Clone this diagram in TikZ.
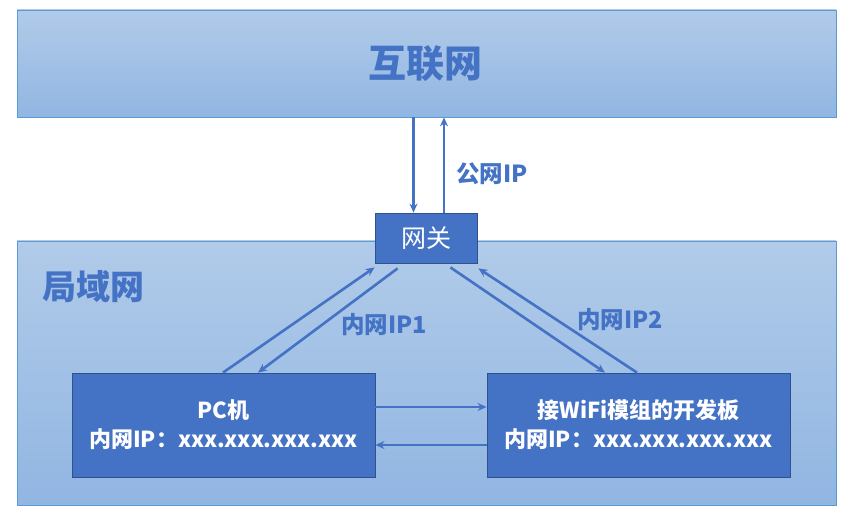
\documentclass[tikz,border=0pt]{standalone}
\usepackage{fontspec}
\setmainfont{Noto Sans CJK SC}
\usetikzlibrary{arrows.meta}
\definecolor{accent}{HTML}{4472C4}
\definecolor{accentdark}{HTML}{2F528F}
\definecolor{edgeblue}{HTML}{5B9BD5}
\definecolor{bgtop}{HTML}{B1CBE9}
\definecolor{bgbot}{HTML}{91B6E2}
\tikzset{
  region/.style={draw=edgeblue, line width=0.8pt, top color=bgtop, bottom color=bgbot, inner sep=0pt},
  devbox/.style={draw=accentdark, line width=0.8pt, fill=accent, text=white, inner sep=0pt, align=center,
    font=\fontsize{22}{29}\selectfont\bfseries},
  arr/.style={draw=accent, line width=2.6pt, -{Stealth[length=9pt,width=8pt]}},
  lbl/.style={text=accent, font=\fontsize{23.5}{26}\selectfont\bfseries, inner sep=0pt}
}
\begin{document}
\begin{tikzpicture}[x=1pt,y=-1pt]
\useasboundingbox (0,0) rectangle (855,518);
\node[region, minimum width=819pt, minimum height=107pt] (internet) at (426.5,63.5) {};
\node[text=accent, font=\fontsize{38}{42}\selectfont\bfseries] (internettext) at (425,64) {互联网};
\node[region, minimum width=819pt, minimum height=264pt] (lan) at (426.5,373) {};
\node[text=accent, font=\fontsize{34}{38}\selectfont\bfseries, anchor=west, inner sep=0pt] (lantext) at (42,287) {局域网};
\node[draw=accentdark, line width=0.8pt, fill=accent, text=white, inner sep=0pt,
  minimum width=102pt, minimum height=50pt, font=\fontsize{25}{28}\selectfont] (gw) at (426,238) {网关};
\node[devbox, minimum width=303pt, minimum height=104pt] (pc) at (223.5,425) {PC机\\内网IP：xxx.xxx.xxx.xxx};
\node[devbox, minimum width=303pt, minimum height=104pt] (board) at (638.5,425) {接WiFi模组的开发板\\内网IP：xxx.xxx.xxx.xxx};
% internet <-> gateway
\draw[arr] ([xshift=-13pt]internet.south) -- ([xshift=-13pt]internet.south |- gw.north);
\draw[arr] ([xshift=18pt]gw.north) -- ([xshift=18pt]gw.north |- internet.south);
\node[lbl] (pubip) at (492,174) {公网IP};
% gateway <-> PC
\draw[arr] ([xshift=-0.5pt]pc.north) -- ([yshift=-4pt]gw.south west);
\draw[arr] ([xshift=23pt,yshift=-5pt]gw.south west) -- ([xshift=34.5pt]pc.north);
\node[lbl] (ip1) at (384,325) {内网IP1};
% gateway <-> board
\draw[arr] ([xshift=-27pt,yshift=-4pt]gw.south east) -- ([xshift=-33.5pt]board.north);
\draw[arr] ([xshift=-1.5pt]board.north) -- ([xshift=1pt,yshift=-5pt]gw.south east);
\node[lbl] (ip2) at (620,320) {内网IP2};
% PC <-> board
\draw[arr] ([yshift=18pt]pc.east) -- ([yshift=18pt]board.west);
\draw[arr] ([yshift=-20pt]board.west) -- ([yshift=-20pt]pc.east);
\end{tikzpicture}
\end{document}
